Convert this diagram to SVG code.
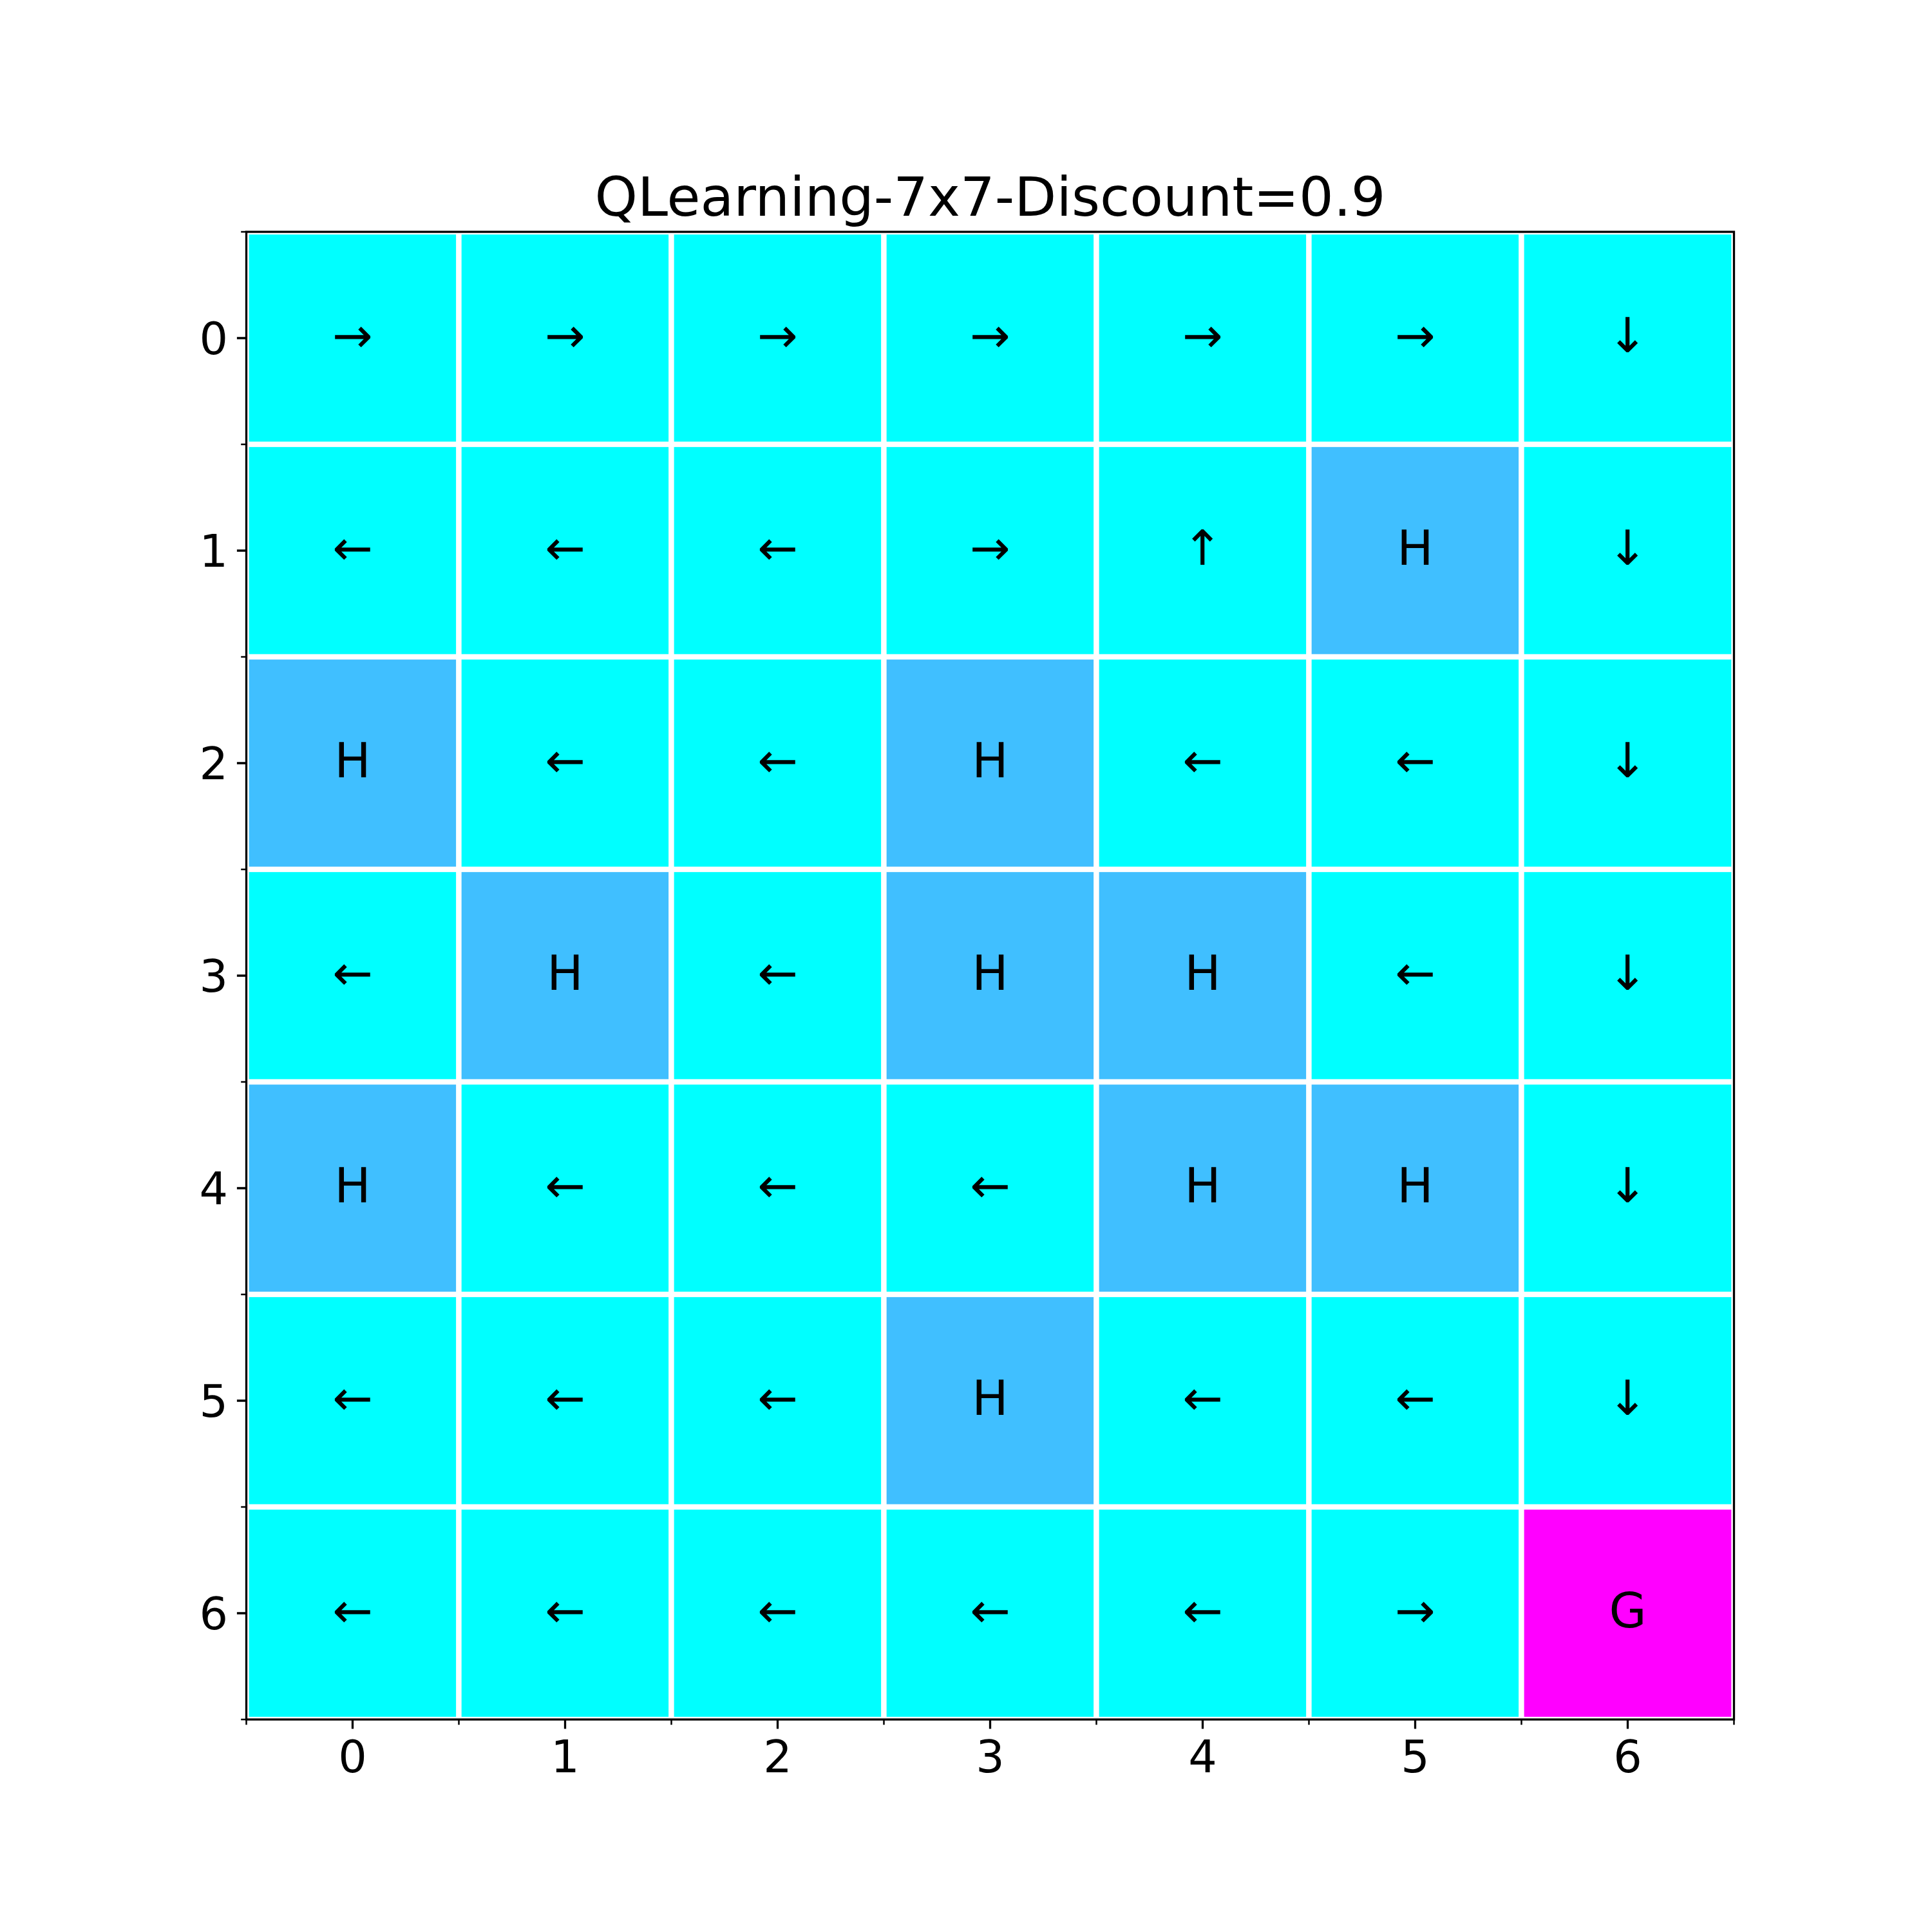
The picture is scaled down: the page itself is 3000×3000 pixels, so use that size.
<svg xmlns="http://www.w3.org/2000/svg" width="3000" height="3000" viewBox="0 0 3000 3000">
<style>
.c{fill:#00ffff;stroke:#ffffff;stroke-width:8.3}
.h{fill:#40bfff;stroke:#ffffff;stroke-width:8.3}
.g{fill:#ff00ff;stroke:#ffffff;stroke-width:8.3}
.t{font-family:"DejaVu Sans",sans-serif;font-size:75px;text-anchor:middle;fill:#000}
.tk{font-family:"DejaVu Sans",sans-serif;font-size:70px;fill:#000}
.ttl{font-family:"DejaVu Sans",sans-serif;font-size:84.5px;text-anchor:middle;fill:#000}
.maj{stroke:#000;stroke-width:3.3}
.min{stroke:#000;stroke-width:2.5}
</style>
<rect width="3000" height="3000" fill="#ffffff"/>
<g id="cells">
<g id="r0">
<rect class="c" x="382.5" y="360" width="330" height="330"/><text class="t" x="547.5" y="547">→</text>
<rect class="c" x="712.5" y="360" width="330" height="330"/><text class="t" x="877.5" y="547">→</text>
<rect class="c" x="1042.5" y="360" width="330" height="330"/><text class="t" x="1207.5" y="547">→</text>
<rect class="c" x="1372.5" y="360" width="330" height="330"/><text class="t" x="1537.5" y="547">→</text>
<rect class="c" x="1702.5" y="360" width="330" height="330"/><text class="t" x="1867.5" y="547">→</text>
<rect class="c" x="2032.5" y="360" width="330" height="330"/><text class="t" x="2197.5" y="547">→</text>
<rect class="c" x="2362.5" y="360" width="330" height="330"/><text class="t" x="2527.5" y="547">↓</text>
</g>
<g id="r1">
<rect class="c" x="382.5" y="690" width="330" height="330"/><text class="t" x="547.5" y="877">←</text>
<rect class="c" x="712.5" y="690" width="330" height="330"/><text class="t" x="877.5" y="877">←</text>
<rect class="c" x="1042.5" y="690" width="330" height="330"/><text class="t" x="1207.5" y="877">←</text>
<rect class="c" x="1372.5" y="690" width="330" height="330"/><text class="t" x="1537.5" y="877">→</text>
<rect class="c" x="1702.5" y="690" width="330" height="330"/><text class="t" x="1867.5" y="877">↑</text>
<rect class="h" x="2032.5" y="690" width="330" height="330"/><text class="t" x="2197.5" y="877">H</text>
<rect class="c" x="2362.5" y="690" width="330" height="330"/><text class="t" x="2527.5" y="877">↓</text>
</g>
<g id="r2">
<rect class="h" x="382.5" y="1020" width="330" height="330"/><text class="t" x="547.5" y="1207">H</text>
<rect class="c" x="712.5" y="1020" width="330" height="330"/><text class="t" x="877.5" y="1207">←</text>
<rect class="c" x="1042.5" y="1020" width="330" height="330"/><text class="t" x="1207.5" y="1207">←</text>
<rect class="h" x="1372.5" y="1020" width="330" height="330"/><text class="t" x="1537.5" y="1207">H</text>
<rect class="c" x="1702.5" y="1020" width="330" height="330"/><text class="t" x="1867.5" y="1207">←</text>
<rect class="c" x="2032.5" y="1020" width="330" height="330"/><text class="t" x="2197.5" y="1207">←</text>
<rect class="c" x="2362.5" y="1020" width="330" height="330"/><text class="t" x="2527.5" y="1207">↓</text>
</g>
<g id="r3">
<rect class="c" x="382.5" y="1350" width="330" height="330"/><text class="t" x="547.5" y="1537">←</text>
<rect class="h" x="712.5" y="1350" width="330" height="330"/><text class="t" x="877.5" y="1537">H</text>
<rect class="c" x="1042.5" y="1350" width="330" height="330"/><text class="t" x="1207.5" y="1537">←</text>
<rect class="h" x="1372.5" y="1350" width="330" height="330"/><text class="t" x="1537.5" y="1537">H</text>
<rect class="h" x="1702.5" y="1350" width="330" height="330"/><text class="t" x="1867.5" y="1537">H</text>
<rect class="c" x="2032.5" y="1350" width="330" height="330"/><text class="t" x="2197.5" y="1537">←</text>
<rect class="c" x="2362.5" y="1350" width="330" height="330"/><text class="t" x="2527.5" y="1537">↓</text>
</g>
<g id="r4">
<rect class="h" x="382.5" y="1680" width="330" height="330"/><text class="t" x="547.5" y="1867">H</text>
<rect class="c" x="712.5" y="1680" width="330" height="330"/><text class="t" x="877.5" y="1867">←</text>
<rect class="c" x="1042.5" y="1680" width="330" height="330"/><text class="t" x="1207.5" y="1867">←</text>
<rect class="c" x="1372.5" y="1680" width="330" height="330"/><text class="t" x="1537.5" y="1867">←</text>
<rect class="h" x="1702.5" y="1680" width="330" height="330"/><text class="t" x="1867.5" y="1867">H</text>
<rect class="h" x="2032.5" y="1680" width="330" height="330"/><text class="t" x="2197.5" y="1867">H</text>
<rect class="c" x="2362.5" y="1680" width="330" height="330"/><text class="t" x="2527.5" y="1867">↓</text>
</g>
<g id="r5">
<rect class="c" x="382.5" y="2010" width="330" height="330"/><text class="t" x="547.5" y="2197">←</text>
<rect class="c" x="712.5" y="2010" width="330" height="330"/><text class="t" x="877.5" y="2197">←</text>
<rect class="c" x="1042.5" y="2010" width="330" height="330"/><text class="t" x="1207.5" y="2197">←</text>
<rect class="h" x="1372.5" y="2010" width="330" height="330"/><text class="t" x="1537.5" y="2197">H</text>
<rect class="c" x="1702.5" y="2010" width="330" height="330"/><text class="t" x="1867.5" y="2197">←</text>
<rect class="c" x="2032.5" y="2010" width="330" height="330"/><text class="t" x="2197.5" y="2197">←</text>
<rect class="c" x="2362.5" y="2010" width="330" height="330"/><text class="t" x="2527.5" y="2197">↓</text>
</g>
<g id="r6">
<rect class="c" x="382.5" y="2340" width="330" height="330"/><text class="t" x="547.5" y="2527">←</text>
<rect class="c" x="712.5" y="2340" width="330" height="330"/><text class="t" x="877.5" y="2527">←</text>
<rect class="c" x="1042.5" y="2340" width="330" height="330"/><text class="t" x="1207.5" y="2527">←</text>
<rect class="c" x="1372.5" y="2340" width="330" height="330"/><text class="t" x="1537.5" y="2527">←</text>
<rect class="c" x="1702.5" y="2340" width="330" height="330"/><text class="t" x="1867.5" y="2527">←</text>
<rect class="c" x="2032.5" y="2340" width="330" height="330"/><text class="t" x="2197.5" y="2527">→</text>
<rect class="g" x="2362.5" y="2340" width="330" height="330"/><text class="t" x="2527.5" y="2527">G</text>
</g>
</g>
<g id="axes">
<rect x="382.5" y="360" width="2310" height="2310" fill="none" stroke="#000" stroke-width="3.3"/>
<g id="ticks">
<path class="maj" d="M382.5 525h-14.6M382.5 855h-14.6M382.5 1185h-14.6M382.5 1515h-14.6M382.5 1845h-14.6M382.5 2175h-14.6M382.5 2505h-14.6"/>
<path class="min" d="M382.5 360h-8.3M382.5 690h-8.3M382.5 1020h-8.3M382.5 1350h-8.3M382.5 1680h-8.3M382.5 2010h-8.3M382.5 2340h-8.3M382.5 2670h-8.3"/>
<path class="maj" d="M547.5 2670v14.6M877.5 2670v14.6M1207.5 2670v14.6M1537.5 2670v14.6M1867.5 2670v14.6M2197.5 2670v14.6M2527.5 2670v14.6"/>
<path class="min" d="M382.5 2670v8.3M712.5 2670v8.3M1042.5 2670v8.3M1372.5 2670v8.3M1702.5 2670v8.3M2032.5 2670v8.3M2362.5 2670v8.3M2692.5 2670v8.3"/>
</g>
<g id="ylabels" class="tk" text-anchor="end">
<text x="354" y="550">0</text>
<text x="354" y="880">1</text>
<text x="354" y="1210">2</text>
<text x="354" y="1540">3</text>
<text x="354" y="1870">4</text>
<text x="354" y="2200">5</text>
<text x="354" y="2530">6</text>
</g>
<g id="xlabels" class="tk" text-anchor="middle">
<text x="547.5" y="2752">0</text>
<text x="877.5" y="2752">1</text>
<text x="1207.5" y="2752">2</text>
<text x="1537.5" y="2752">3</text>
<text x="1867.5" y="2752">4</text>
<text x="2197.5" y="2752">5</text>
<text x="2527.5" y="2752">6</text>
</g>
<text id="title" class="ttl" x="1537.5" y="335">QLearning-7x7-Discount=0.9</text>
</g>
</svg>
